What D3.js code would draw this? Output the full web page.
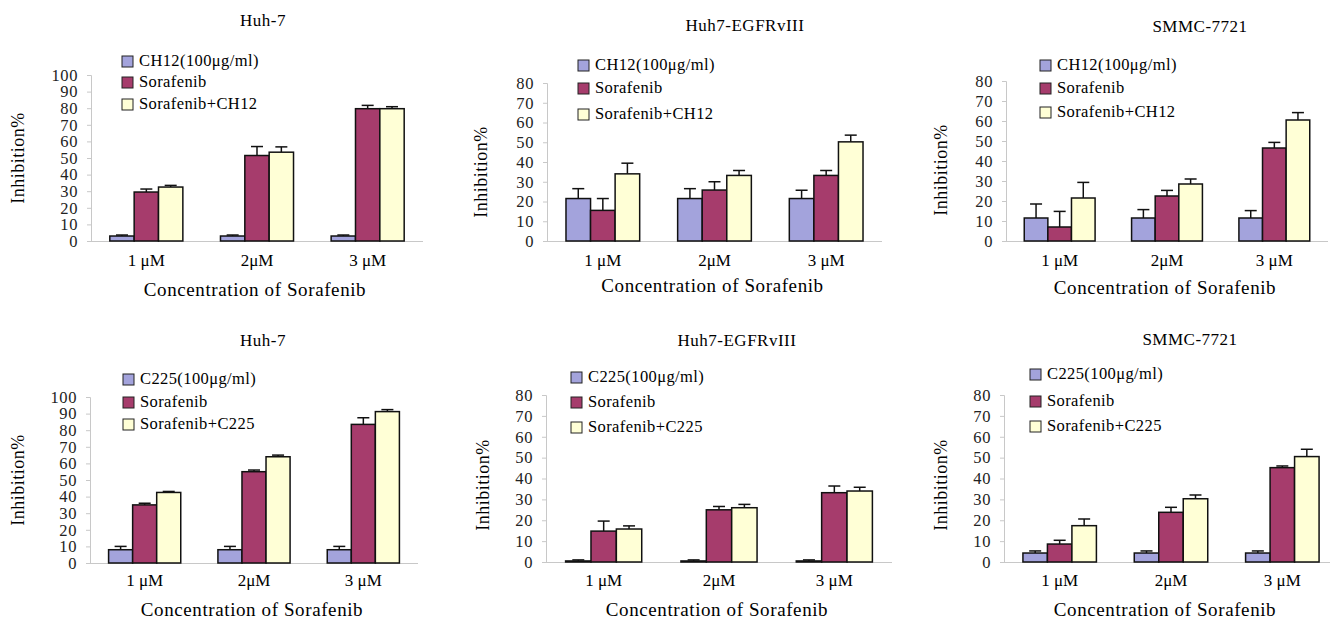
<!DOCTYPE html>
<html>
<head>
<meta charset="utf-8">
<script src="https://cdn.jsdelivr.net/npm/d3@7"></script>
<style>
  body { margin: 0; background: #fff; }
  svg { display: block; font-family: "Liberation Serif", "Times New Roman", serif; }
  .axis { font-family: "Liberation Serif", "Times New Roman", serif; }
  .axis path, .axis line { stroke: #c8c8c8; }
  .axis text { fill: #222; font-size: 16.5px; letter-spacing: 0.6px; }
</style>
</head>
<body>
<svg width="1330" height="619"></svg>
<script>
// doses on the x axis
const doses = ['1 μM', '2μM', '3 μM'];
const seriesKeys = ['antibody', 'sorafenib', 'combo'];

// panel titles and legend text
const titles = ['Huh-7', 'Huh7-EGFRvIII', 'SMMC-7721', 'Huh-7', 'Huh7-EGFRvIII', 'SMMC-7721'];
const legendCH12 = ['CH12(100μg/ml)', 'Sorafenib', 'Sorafenib+CH12'];
const legendC225 = ['C225(100μg/ml)', 'Sorafenib', 'Sorafenib+C225'];
const yMaxes = [100, 80, 80, 100, 80, 80];

// inhibition % per dose: [antibody, sorafenib, sorafenib+antibody]
const huh7CH12 = [[3, 29.5, 32.5], [3, 51.5, 53.5], [3, 79.7, 79.7]];
const huh7CH12Err = [[0.6, 1.8, 1], [0.6, 5.4, 3.2], [0.6, 2, 1.2]];
const egfrCH12 = [[21.5, 15.5, 34], [21.5, 25.8, 33.2], [21.5, 33.2, 50.2]];
const egfrCH12Err = [[5, 6, 5.4], [5, 4.2, 2.5], [4.2, 2.5, 3.4]];
const smmcCH12 = [[11.5, 7, 21.5], [11.5, 22.5, 28.5], [11.5, 46.5, 60.5]];
const smmcCH12Err = [[7, 7.8, 7.8], [4.2, 2.8, 2.5], [3.7, 2.8, 3.7]];
const huh7C225 = [[8, 35, 42.5], [8, 55, 64], [8, 83.5, 91.2]];
const huh7C225Err = [[2, 1, 0.6], [2, 1, 1], [2, 4, 1.2]];
const egfrC225 = [[0.5, 14.8, 15.8], [0.5, 25, 26], [0.5, 33.2, 34]];
const egfrC225Err = [[0.5, 4.8, 1.5], [0.5, 1.6, 1.6], [0.5, 3.2, 1.8]];
const smmcC225 = [[4.3, 8.6, 17.4], [4.3, 23.8, 30.3], [4.3, 45.2, 50.5]];
const smmcC225Err = [[1, 1.8, 3.2], [1, 2.4, 1.8], [1, 0.8, 3.5]];

const means = [huh7CH12, egfrCH12, smmcCH12, huh7C225, egfrC225, smmcC225];
const errs = [huh7CH12Err, egfrCH12Err, smmcCH12Err, huh7C225Err, egfrC225Err, smmcC225Err];

const colors = d3.scaleOrdinal().domain(seriesKeys).range(['#a3a3dc', '#a63c6c', '#ffffd6']);

// where each panel sits on the page
const layout = [
  {x0: 91, x1: 423, top: 75, bottom: 241, tx: 263, ty: 22, lx: 122, ly: [62, 83, 105], yl: [20, 158], xl: 262, xt: 292},
  {x0: 547, x1: 882, top: 83, bottom: 241, tx: 745, ty: 27, lx: 578, ly: [66, 89, 115], yl: [483, 172], xl: 262, xt: 288},
  {x0: 1006, x1: 1328, top: 81, bottom: 241, tx: 1200, ty: 28, lx: 1040, ly: [66, 89, 113], yl: [943, 170], xl: 262, xt: 290},
  {x0: 90, x1: 418, top: 397, bottom: 563, tx: 263, ty: 342, lx: 123, ly: [380, 403, 425], yl: [20, 480], xl: 582, xt: 612},
  {x0: 546, x1: 892, top: 395, bottom: 562, tx: 737, ty: 342, lx: 571, ly: [378, 403, 428], yl: [485, 485], xl: 582, xt: 612},
  {x0: 1004, x1: 1338, top: 395, bottom: 562, tx: 1190, ty: 341, lx: 1030, ly: [375, 402, 427], yl: [943, 485], xl: 582, xt: 612}
];

const svg = d3.select('svg');

layout.forEach((L, i) => {
  const g = svg.append('g');

  const x = d3.scaleBand().domain(doses).range([L.x0, L.x1])
      .paddingInner(0.34).paddingOuter(0.17);
  const xs = d3.scaleBand().domain(seriesKeys).range([0, x.bandwidth()]);
  const y = d3.scaleLinear().domain([0, yMaxes[i]]).range([L.bottom, L.top]);

  // axes
  g.append('g').attr('class', 'axis')
      .attr('transform', `translate(${L.x0},0)`)
      .call(d3.axisLeft(y).ticks(yMaxes[i] / 10).tickSize(4).tickPadding(9))
      .attr('font-family', null).attr('font-size', null);
  const xAxis = g.append('g').attr('class', 'axis')
      .attr('transform', `translate(0,${L.bottom})`)
      .call(d3.axisBottom(x).tickSize(0).tickFormat(''));
  xAxis.select('.domain').attr('d', `M${L.x0},0.5H${L.x1}`);

  // x category labels
  g.selectAll('.xlab').data(doses).enter().append('text')
      .attr('x', d => x(d) + x.bandwidth() / 2)
      .attr('y', L.xl)
      .attr('text-anchor', 'middle')
      .attr('dominant-baseline', 'middle')
      .style('font-size', '17px')
      .text(d => d);

  // bars
  const groups = g.selectAll('.grp').data(means[i]).enter().append('g')
      .attr('transform', (d, k) => `translate(${x(doses[k])},0)`);

  groups.each(function (row, k) {
    const gg = d3.select(this);
    const e = errs[i][k];
    seriesKeys.forEach((key, s) => {
      const bx = xs(key), bw = xs.bandwidth();
      const top = y(row[s]);
      const etop = y(row[s] + e[s]);
      gg.append('line')
          .attr('x1', bx + bw / 2).attr('x2', bx + bw / 2)
          .attr('y1', top).attr('y2', etop)
          .attr('stroke', '#111').attr('stroke-width', 1.5);
      gg.append('line')
          .attr('x1', bx + bw / 2 - 6).attr('x2', bx + bw / 2 + 6)
          .attr('y1', etop).attr('y2', etop)
          .attr('stroke', '#111').attr('stroke-width', 1.5);
      gg.append('rect')
          .attr('x', bx).attr('width', bw)
          .attr('y', top).attr('height', L.bottom - top)
          .attr('fill', colors(key))
          .attr('stroke', '#111').attr('stroke-width', 1.5);
    });
  });

  // title
  g.append('text')
      .attr('x', L.tx).attr('y', L.ty)
      .attr('text-anchor', 'middle')
      .attr('dominant-baseline', 'middle')
      .style('font-size', '17px')
      .style('letter-spacing', '0.5px')
      .text(titles[i]);

  // y axis title
  g.append('text')
      .attr('transform', `translate(${L.yl[0]},${L.yl[1]}) rotate(-90)`)
      .attr('text-anchor', 'middle')
      .attr('dominant-baseline', 'middle')
      .style('font-size', '18px')
      .style('letter-spacing', '0.5px')
      .text('Inhibition%');

  // x axis title
  g.append('text')
      .attr('x', (L.x0 + Math.min(L.x1, 1330)) / 2 - 2).attr('y', L.xt)
      .attr('text-anchor', 'middle')
      .attr('dominant-baseline', 'middle')
      .style('font-size', '19px')
      .style('letter-spacing', '0.6px')
      .text('Concentration of Sorafenib');

  // legend
  const labels = i < 3 ? legendCH12 : legendC225;
  seriesKeys.forEach((key, s) => {
    g.append('rect')
        .attr('x', L.lx).attr('y', L.ly[s] - 6)
        .attr('width', 11).attr('height', 11)
        .attr('fill', colors(key))
        .attr('stroke', '#222').attr('stroke-width', 1);
    g.append('text')
        .attr('x', L.lx + 17).attr('y', L.ly[s])
        .attr('dominant-baseline', 'middle')
        .style('font-size', '16.5px')
        .style('letter-spacing', '0.4px')
        .text(labels[s]);
  });
});
</script>
</body>
</html>
